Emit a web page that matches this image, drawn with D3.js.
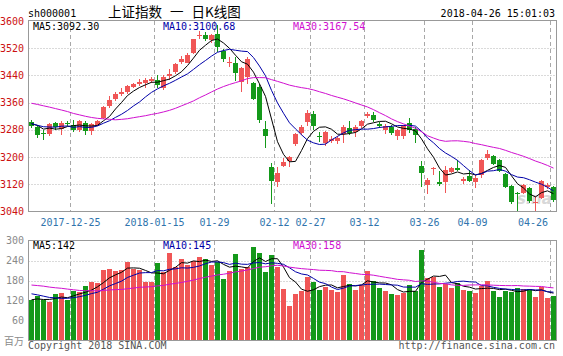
<!DOCTYPE html>
<html><head><meta charset="utf-8">
<script src="https://cdn.jsdelivr.net/npm/d3@7"></script>
<style>
body{margin:0;background:#fff;}
svg{display:block;}
text{font-family:"DejaVu Sans Mono",monospace;font-size:10px;}
</style></head><body>
<svg id="c" width="563" height="356"></svg>
<script>
const dates = ["2017-12-14","2017-12-15","2017-12-18","2017-12-19","2017-12-20","2017-12-21","2017-12-22","2017-12-25","2017-12-26","2017-12-27","2017-12-28","2017-12-29",
"2018-01-02","2018-01-03","2018-01-04","2018-01-05","2018-01-08","2018-01-09","2018-01-10","2018-01-11","2018-01-12","2018-01-15","2018-01-16","2018-01-17","2018-01-18","2018-01-19","2018-01-22","2018-01-23","2018-01-24","2018-01-25","2018-01-26","2018-01-29","2018-01-30","2018-01-31",
"2018-02-01","2018-02-02","2018-02-05","2018-02-06","2018-02-07","2018-02-08","2018-02-09","2018-02-12","2018-02-13","2018-02-14","2018-02-22","2018-02-23","2018-02-26","2018-02-27","2018-02-28",
"2018-03-01","2018-03-02","2018-03-05","2018-03-06","2018-03-07","2018-03-08","2018-03-09","2018-03-12","2018-03-13","2018-03-14","2018-03-15","2018-03-16","2018-03-19","2018-03-20","2018-03-21","2018-03-22","2018-03-23","2018-03-26","2018-03-27","2018-03-28","2018-03-29","2018-03-30",
"2018-04-02","2018-04-03","2018-04-04","2018-04-09","2018-04-10","2018-04-11","2018-04-12","2018-04-13","2018-04-16","2018-04-17","2018-04-18","2018-04-19","2018-04-20","2018-04-23","2018-04-24","2018-04-25","2018-04-26"];

const opens = [3303,3288,3271,3268,3299,3282,3300,3295,3279,3300,3277,3295,
3314,3349,3371,3386,3391,3407,3415,3417,3424,3428,3404,3438,3450,3479,3478,3506,3556,3560,3545,3563,3512,3476,
3478,3422,3435,3417,3405,3283,3172,3127,3175,3188,3237,3272,3303,3328,3263,
3240,3246,3247,3267,3284,3273,3291,3320,3324,3298,3281,3289,3263,3262,3301,3282,3174,3117,3164,3126,3127,3157,
3169,3129,3145,3128,3147,3196,3202,3190,3150,3116,3093,3094,3108,3064,3079,3111,3112];

const highs = [3310,3294,3280,3301,3303,3305,3307,3310,3309,3306,3300,3310,
3350,3379,3391,3402,3412,3418,3430,3431,3436,3442,3440,3458,3477,3496,3505,3548,3572,3568,3563,3587,3517,3495,
3495,3466,3495,3420,3414,3305,3182,3172,3197,3202,3272,3295,3338,3334,3275,
3277,3263,3262,3295,3306,3293,3310,3333,3333,3302,3296,3293,3282,3293,3315,3287,3189,3139,3172,3158,3173,3172,
3192,3142,3161,3147,3193,3220,3206,3193,3153,3119,3097,3120,3113,3085,3132,3125,3116];

const lows = [3285,3256,3250,3262,3281,3264,3290,3273,3275,3266,3265,3292,
3313,3345,3365,3380,3385,3403,3409,3403,3418,3402,3396,3427,3445,3473,3476,3504,3546,3540,3535,3510,3480,3465,
3425,3390,3415,3367,3301,3226,3062.74,3112,3172,3172,3233,3265,3290,3281,3245,
3232,3240,3237,3242,3264,3260,3285,3315,3303,3284,3268,3266,3249,3253,3270,3240,3113,3092,3147,3115,3093,3152,
3158,3120,3127,3108,3139,3192,3178,3155,3108,3062,3041,3090,3066,3042,3077,3105,3068];

const closes = [3292.44,3266.14,3267.92,3296.39,3287.61,3300.06,3297.06,3280.46,3306.12,3275.78,3296.38,3307.17,
3348.33,3369.11,3385.71,3391.75,3409.48,3413.90,3421.83,3425.34,3428.94,3410.49,3436.59,3444.67,3474.75,3487.86,3501.36,3546.50,3559.47,3548.31,3558.13,3523.00,3488.01,3480.83,
3446.98,3462.08,3487.50,3370.65,3309.26,3262.05,3129.85,3154.13,3184.96,3199.16,3268.56,3289.02,3329.57,3292.07,3259.41,
3273.75,3254.53,3256.93,3289.64,3271.67,3288.41,3307.17,3326.70,3310.24,3291.38,3291.11,3269.88,3279.25,3290.64,3280.95,3263.48,3152.76,3133.72,3166.65,3122.29,3160.53,3168.90,
3163.18,3136.63,3131.11,3138.29,3190.32,3208.08,3180.16,3159.05,3110.65,3066.80,3091.40,3117.38,3071.54,3068.01,3128.93,3117.97,3075.03];

// volume, 百万
const volumes = [121,133,121,116,139,143,123,149,145,164,175,172,
213,216,209,213,235,216,211,176,176,233,205,263,221,246,226,238,252,244,226,236,184,210,
259,215,220,281,264,205,256,221,155,105,140,149,190,177,152,
162,152,147,197,170,152,167,209,179,
157,150,140,138,142,168,150,271,188,190,162,170,158,172,152,148,142,165,178,148,
130,150,147,157,156,155,132,160,128,135];

// closes / volumes of the 29 sessions before the first candle (needed for the moving averages)
const priorCloses = [3371.74,3388.17,3413.57,3415.46,3427.79,3432.67,3447.84,3429.55,3402.52,3399.25,3382.91,3392.40,3410.50,3430.46,3351.92,3353.82,3322.23,3333.66,3337.86,3317.19,3317.62,3309.62,3303.68,3293.96,3272.05,3289.99,3322.20,3280.81,3303.04];
const priorVolumes = [180,175,200,200,190,195,210,205,185,175,190,175,170,180,200,165,160,140,150,145,165,160,155,150,160,120,130,115,125];

const priceTicks = [3600,3520,3440,3360,3280,3200,3120,3040];
const volumeTicks = [300,240,180,120,60];
const labelDates = ["2017-12-25","2018-01-15","2018-01-29","2018-02-12","2018-02-27","2018-03-12","2018-03-26","2018-04-09","2018-04-26"];
const labelTexts = ["2017-12-25","2018-01-15","01-29","02-12","02-27","03-12","03-26","04-09","04-26"];
const maPeriods = [5,10,30];
const maColors = ["#000000","#0000a8","#d010d0"];

const RED = "#f05656", GREEN = "#14991a";
const svg = d3.select("#c");

const x = d3.scaleBand().domain(dates).range([28,557]).paddingInner(1/6).paddingOuter(1/6);
const cx = d => x(d) + x.bandwidth()/2;
const yP = d3.scaleLinear().domain([3040,3600]).range([211.5,21]);
const yV = d3.scaleLinear().domain([0,300]).range([340.5,240.5]);

function movingAvg(prior, vals, n){
  const all = prior.concat(vals);
  const off = prior.length;
  return vals.map((v,i)=>{
    const k = off + i;
    let s = 0;
    for(let j=k-n+1;j<=k;j++) s += all[j];
    return s/n;
  });
}
const priceMA = maPeriods.map(n => movingAvg(priorCloses, closes, n));
const volMA = maPeriods.map(n => movingAvg(priorVolumes, volumes, n));

const gridC = "#b4b4b4";
const L = 28.5, R = 556.5;

// ---------- grids ----------
const g = svg.append("g");
priceTicks.slice(1,-1).forEach(t=>{
  const yy = Math.round(yP(t))+0.5;
  g.append("line").attr("x1",L).attr("x2",R).attr("y1",yy).attr("y2",yy)
   .attr("stroke",gridC).attr("stroke-dasharray","1,2");
});
volumeTicks.slice(1).forEach(t=>{
  const yy = Math.round(yV(t))+0.5;
  g.append("line").attr("x1",L).attr("x2",R).attr("y1",yy).attr("y2",yy)
   .attr("stroke",gridC).attr("stroke-dasharray","1,2");
});
labelDates.forEach(d=>{
  const xx = x(d) - 0.5;
  g.append("line").attr("x1",xx).attr("x2",xx).attr("y1",21).attr("y2",211)
   .attr("stroke","#a8a8a8").attr("stroke-dasharray","4,3");
  g.append("line").attr("x1",xx).attr("x2",xx).attr("y1",241).attr("y2",340)
   .attr("stroke","#a8a8a8").attr("stroke-dasharray","4,3");
});

// ---------- watermark ----------
svg.append("text").attr("x",517).attr("y",204).text("sina")
  .style("font-family","DejaVu Sans").style("font-size","15px").style("font-style","italic").style("font-weight","bold")
  .attr("fill","#c8c8c8").attr("opacity",0.7);

// ---------- candles ----------
const cg = svg.append("g").attr("shape-rendering","crispEdges");
dates.forEach((d,i)=>{
  const up = closes[i] >= opens[i];
  const col = up ? RED : GREEN;
  const xc = Math.floor(cx(d)) + 0.5;
  cg.append("line").attr("x1",xc).attr("x2",xc).attr("y1",yP(highs[i])).attr("y2",yP(lows[i]))
    .attr("stroke",col);
  const top = yP(Math.max(opens[i],closes[i])), bot = yP(Math.min(opens[i],closes[i]));
  cg.append("rect").attr("x",x(d)).attr("width",x.bandwidth())
    .attr("y",top).attr("height",Math.max(1,bot-top)).attr("fill",col);
  // volume
  cg.append("rect").attr("x",x(d)).attr("width",x.bandwidth())
    .attr("y",yV(volumes[i])).attr("height",yV(0)-yV(volumes[i])).attr("fill",col);
});

// ---------- MA lines ----------
maPeriods.forEach((n,k)=>{
  const lp = d3.line().x((v,i)=>cx(dates[i])).y(v=>yP(v));
  svg.append("path").attr("d",lp(priceMA[k])).attr("fill","none").attr("stroke",maColors[k]).attr("stroke-width",1);
  const lv = d3.line().x((v,i)=>cx(dates[i])).y(v=>yV(v));
  svg.append("path").attr("d",lv(volMA[k])).attr("fill","none").attr("stroke",maColors[k]).attr("stroke-width",1);
});

// ---------- borders ----------
svg.append("rect").attr("x",L).attr("y",20.5).attr("width",R-L).attr("height",191)
  .attr("fill","none").attr("stroke","#999").attr("shape-rendering","crispEdges");
svg.append("rect").attr("x",L).attr("y",240.5).attr("width",R-L).attr("height",100)
  .attr("fill","none").attr("stroke","#999").attr("shape-rendering","crispEdges");

// ---------- axis labels ----------
priceTicks.forEach(t=>{
  svg.append("text").attr("x",24).attr("y",yP(t)+3.5).attr("text-anchor","end")
    .attr("fill","#cc1111").text(t);
});
volumeTicks.forEach(t=>{
  svg.append("text").attr("x",24).attr("y",yV(t)+3.5).attr("text-anchor","end")
    .attr("fill","#8a8a8a").text(t);
});
svg.append("text").attr("x",24).attr("y",345).attr("text-anchor","end")
  .style("font-family","'Noto Sans CJK SC'").attr("fill","#8a8a8a").text("百万");

labelDates.forEach((d,i)=>{
  const w = labelTexts[i].length*6.02;
  const c = Math.min(x(d)-0.5, 548 - w/2);
  svg.append("text").attr("x",c).attr("y",225.5).attr("text-anchor","middle")
    .attr("fill","#2f74ad").text(labelTexts[i]);
});

// ---------- legends ----------
const legX = [33,163,293];
maPeriods.forEach((n,k)=>{
  svg.append("text").attr("x",legX[k]).attr("y",29.5).attr("fill",maColors[k])
    .text("MA"+n+":"+priceMA[k][priceMA[k].length-1].toFixed(2));
  svg.append("text").attr("x",legX[k]).attr("y",249).attr("fill",maColors[k])
    .text("MA"+n+":"+Math.round(volMA[k][volMA[k].length-1]));
});

// ---------- header / footer ----------
svg.append("text").attr("x",28).attr("y",16.5).attr("fill","#000").text("sh000001");
svg.append("text").attr("x",108).attr("y",17).attr("fill","#000")
  .style("font-family","'Noto Sans CJK SC'").style("font-size","13.5px").style("word-spacing","5px")
  .text("上证指数 一 日K线图");
svg.append("text").attr("x",555).attr("y",16.5).attr("text-anchor","end").attr("fill","#000").text("2018-04-26 15:01:03");
svg.append("text").attr("x",28).attr("y",349).attr("fill","#555").text("Copyright 2018 SINA.COM");
svg.append("text").attr("x",555).attr("y",349).attr("text-anchor","end").attr("fill","#555").text("http://finance.sina.com.cn");
</script>
</body></html>
